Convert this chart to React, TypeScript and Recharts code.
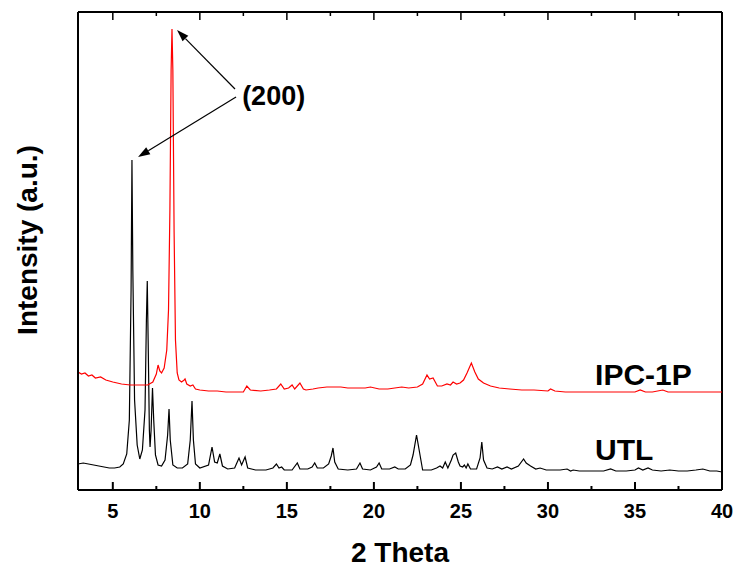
import React from 'react';
import { LineChart, Line, XAxis, YAxis, ReferenceLine, ReferenceDot } from 'recharts';

// 2-theta ticks (major every 5, minor every 2.5)
const xTicks = [5, 7.5, 10, 12.5, 15, 17.5, 20, 22.5, 25, 27.5, 30, 32.5, 35, 37.5, 40];

// UTL pattern (black)
const utlTheta = [
  3.0, 3.3, 3.6, 3.9, 4.2, 4.5, 4.8, 5.1, 5.4, 5.6, 5.8, 5.95, 6.05, 6.1, 6.15, 6.25, 6.4, 6.55,
  6.7, 6.85, 6.93, 6.98, 7.03, 7.1, 7.14, 7.2, 7.28, 7.35, 7.45, 7.6, 7.8, 8.0, 8.15, 8.23, 8.3,
  8.45, 8.7, 9.0, 9.3, 9.45, 9.55, 9.63, 9.75, 10.0, 10.5, 10.7, 10.85, 11.0, 11.15, 11.3, 11.6,
  12.0, 12.25, 12.4, 12.6, 12.75, 13.2, 13.8, 14.2, 14.4, 14.55, 14.7, 14.85, 15.3, 15.6, 15.75,
  16.2, 16.45, 16.6, 16.75, 17.1, 17.4, 17.55, 17.65, 17.75, 17.95, 18.5, 19.0, 19.2, 19.35, 19.8,
  20.15, 20.3, 20.45, 20.9, 21.2, 21.4, 21.8, 22.1, 22.25, 22.45, 22.6, 22.8, 23.3, 23.6, 23.8,
  23.95, 24.1, 24.25, 24.45, 24.55, 24.7, 24.85, 24.95, 25.1, 25.2, 25.3, 25.4, 25.55, 25.9, 26.1,
  26.2, 26.3, 26.5, 26.8, 27.1, 27.35, 27.65, 27.9, 28.3, 28.6, 28.75, 29.0, 29.3, 29.55, 29.9,
  30.3, 30.7, 31.1, 31.3, 31.45, 31.8, 32.5, 33.2, 33.6, 33.9, 34.5, 35.0, 35.2, 35.45, 35.75,
  36.0, 36.5, 37.0, 37.5, 38.0, 38.5, 38.9, 39.3, 39.7, 40.0,
];
const utlIntensity = [
  26, 27, 26, 25, 24, 23, 22, 22, 23, 26, 36, 70, 200, 330, 220, 90, 45, 31,
  40, 80, 170, 209, 150, 60, 43, 60, 102, 70, 35, 25, 24, 30, 55, 81, 50,
  25, 22, 22, 26, 50, 89, 50, 26, 22, 25, 43, 28, 27, 36, 24, 21,
  22, 32, 25, 33, 22, 20, 20, 22, 26, 22, 23, 20, 20, 27, 21,
  21, 23, 27, 22, 22, 26, 34, 42, 28, 21, 20, 21, 27, 21, 20,
  23, 27, 21, 21, 23, 21, 21, 25, 35, 55, 40, 20, 20, 22, 24,
  22, 28, 22, 30, 35, 37, 28, 24, 23, 25, 22, 26, 21, 21, 32,
  48, 30, 22, 21, 23, 21, 23, 21, 24, 31, 27, 24, 21, 22, 20,
  20, 20, 21, 19, 20, 19, 19, 19, 21, 19, 19, 20, 22, 20, 22,
  20, 19, 20, 19, 19, 20, 21, 19, 19, 18,
];

// IPC-1P pattern (red)
const ipcTheta = [
  3.0, 3.2, 3.4, 3.6, 3.8, 4.0, 4.3, 4.6, 5.0, 5.5, 6.0, 6.5, 7.0, 7.3, 7.5, 7.6, 7.7, 7.8, 7.95,
  8.1, 8.2, 8.28, 8.35, 8.4, 8.45, 8.52, 8.6, 8.7, 8.8, 8.95, 9.1, 9.15, 9.25, 9.45, 9.6, 9.75,
  10.0, 10.5, 11.0, 11.5, 12.0, 12.5, 12.7, 12.9, 13.5, 14.0, 14.4, 14.65, 14.85, 15.1, 15.3,
  15.45, 15.75, 15.95, 16.1, 16.5, 16.8, 17.3, 17.8, 18.1, 18.5, 19.0, 19.5, 19.8, 20.3, 20.8,
  21.2, 21.6, 22.0, 22.5, 22.8, 23.05, 23.2, 23.4, 23.65, 23.9, 24.2, 24.4, 24.55, 24.75, 24.95,
  25.15, 25.35, 25.6, 25.8, 26.0, 26.3, 26.7, 27.2, 27.8, 28.5, 29.2, 30.0, 30.15, 30.4, 31.0,
  32.0, 33.0, 34.0, 35.0, 35.3, 35.6, 36.0, 36.6, 36.9, 37.5, 38.5, 39.2, 40.0,
];
const ipcIntensity = [
  118, 116, 117, 114, 115, 112, 113, 110, 108, 106, 105, 105, 105, 108, 116, 125, 119, 117, 122,
  140, 180, 280, 420, 461, 420, 260, 150, 117, 110, 108, 110, 111, 106, 104, 105, 101,
  100, 99, 99, 98, 98, 98, 104, 100, 99, 100, 101, 106, 101, 102, 105,
  101, 107, 101, 100, 101, 102, 103, 103, 103, 102, 102, 102, 103, 101, 101,
  102, 103, 102, 103, 106, 115, 111, 112, 104, 104, 106, 105, 108, 106, 107,
  110, 117, 127, 118, 111, 107, 104, 102, 101, 100, 100, 99, 101, 99, 98,
  98, 98, 98, 98, 100, 98, 98, 100, 98, 98, 98, 98, 98,
];

const utlData = utlTheta.map((x, i) => ({ x, y: utlIntensity[i] }));
const ipcData = ipcTheta.map((x, i) => ({ x, y: ipcIntensity[i] }));

const W = 734;
const H = 570;
const PLOT_TOP = 12;
const PLOT_BOTTOM = 490;
const FONT = '"Liberation Sans", Arial, sans-serif';

const AxisTick = (props: any) => {
  const { x, payload } = props;
  const major = payload.value % 5 === 0;
  const len = major ? 8 : 4;
  return (
    <g>
      <line x1={x} x2={x} y1={PLOT_BOTTOM} y2={PLOT_BOTTOM - len} stroke="#000" strokeWidth={2} />
      <line x1={x} x2={x} y1={PLOT_TOP} y2={PLOT_TOP + len} stroke="#000" strokeWidth={1.5} />
      {major && (
        <text x={x} y={PLOT_BOTTOM + 28} textAnchor="middle" fontFamily={FONT} fontWeight="bold" fontSize={20} fill="#000">
          {payload.value}
        </text>
      )}
    </g>
  );
};

const Arrow = (props: any) => {
  const { x1, y1, x2, y2 } = props;
  const a = Math.atan2(y2 - y1, x2 - x1);
  const L = 12;
  const hw = 4;
  const bx = x2 - L * Math.cos(a);
  const by = y2 - L * Math.sin(a);
  const pts = `${x2},${y2} ${bx - hw * Math.sin(a)},${by + hw * Math.cos(a)} ${bx + hw * Math.sin(a)},${by - hw * Math.cos(a)}`;
  return (
    <g>
      <line x1={x1} y1={y1} x2={bx} y2={by} stroke="#000" strokeWidth={1.2} />
      <polygon points={pts} fill="#000" />
    </g>
  );
};

const textAt = (label: string, size: number) => (p: any) => (
  <text x={p.cx} y={p.cy} fontFamily={FONT} fontWeight="bold" fontSize={size} fill="#000">
    {label}
  </text>
);

export default function App() {
  return (
    <div style={{ position: 'absolute', left: 0, top: 0, width: W, height: H, background: '#fff' }}>
      <LineChart width={W} height={H} margin={{ top: PLOT_TOP, right: 12, left: 0, bottom: 0 }}>
        <XAxis
          dataKey="x"
          type="number"
          domain={[3, 40]}
          ticks={xTicks}
          interval={0}
          allowDataOverflow
          height={80}
          tickLine={false}
          axisLine={{ stroke: '#000', strokeWidth: 2 }}
          tick={(p: any) => <AxisTick {...p} />}
          label={{
            content: (p: any) => (
              <text
                x={p.viewBox.x + p.viewBox.width / 2}
                y={562}
                textAnchor="middle"
                fontFamily={FONT}
                fontWeight="bold"
                fontSize={28}
                fill="#000"
              >
                2 Theta
              </text>
            ),
          }}
        />
        <YAxis
          type="number"
          dataKey="y"
          domain={[0, 478]}
          allowDataOverflow
          width={78}
          tick={false}
          tickLine={false}
          axisLine={{ stroke: '#000', strokeWidth: 2 }}
          label={{
            content: () => (
              <text
                x={37}
                y={240}
                transform="rotate(-90, 37, 240)"
                textAnchor="middle"
                fontFamily={FONT}
                fontWeight="bold"
                fontSize={28}
                fill="#000"
              >
                Intensity (a.u.)
              </text>
            ),
          }}
        />
        <ReferenceLine y={478} stroke="#000" strokeWidth={2} />
        <ReferenceLine x={40} stroke="#000" strokeWidth={2} />
        <Line
          data={utlData}
          dataKey="y"
          type="linear"
          stroke="#000000"
          strokeWidth={1.2}
          dot={false}
          isAnimationActive={false}
        />
        <Line
          data={ipcData}
          dataKey="y"
          type="linear"
          stroke="#ff0000"
          strokeWidth={1.2}
          dot={false}
          isAnimationActive={false}
        />
        <ReferenceLine segment={[{ x: 12.02, y: 401 }, { x: 8.69, y: 460 }]} shape={(p: any) => <Arrow {...p} />} />
        <ReferenceLine segment={[{ x: 12.08, y: 393 }, { x: 6.45, y: 333 }]} shape={(p: any) => <Arrow {...p} />} />
        <ReferenceDot x={12.43} y={385} r={0} fill="none" stroke="none" shape={textAt('(200)', 27)} />
        <ReferenceDot x={32.71} y={105} r={0} fill="none" stroke="none" shape={textAt('IPC-1P', 30)} />
        <ReferenceDot x={32.71} y={30} r={0} fill="none" stroke="none" shape={textAt('UTL', 30)} />
      </LineChart>
    </div>
  );
}
